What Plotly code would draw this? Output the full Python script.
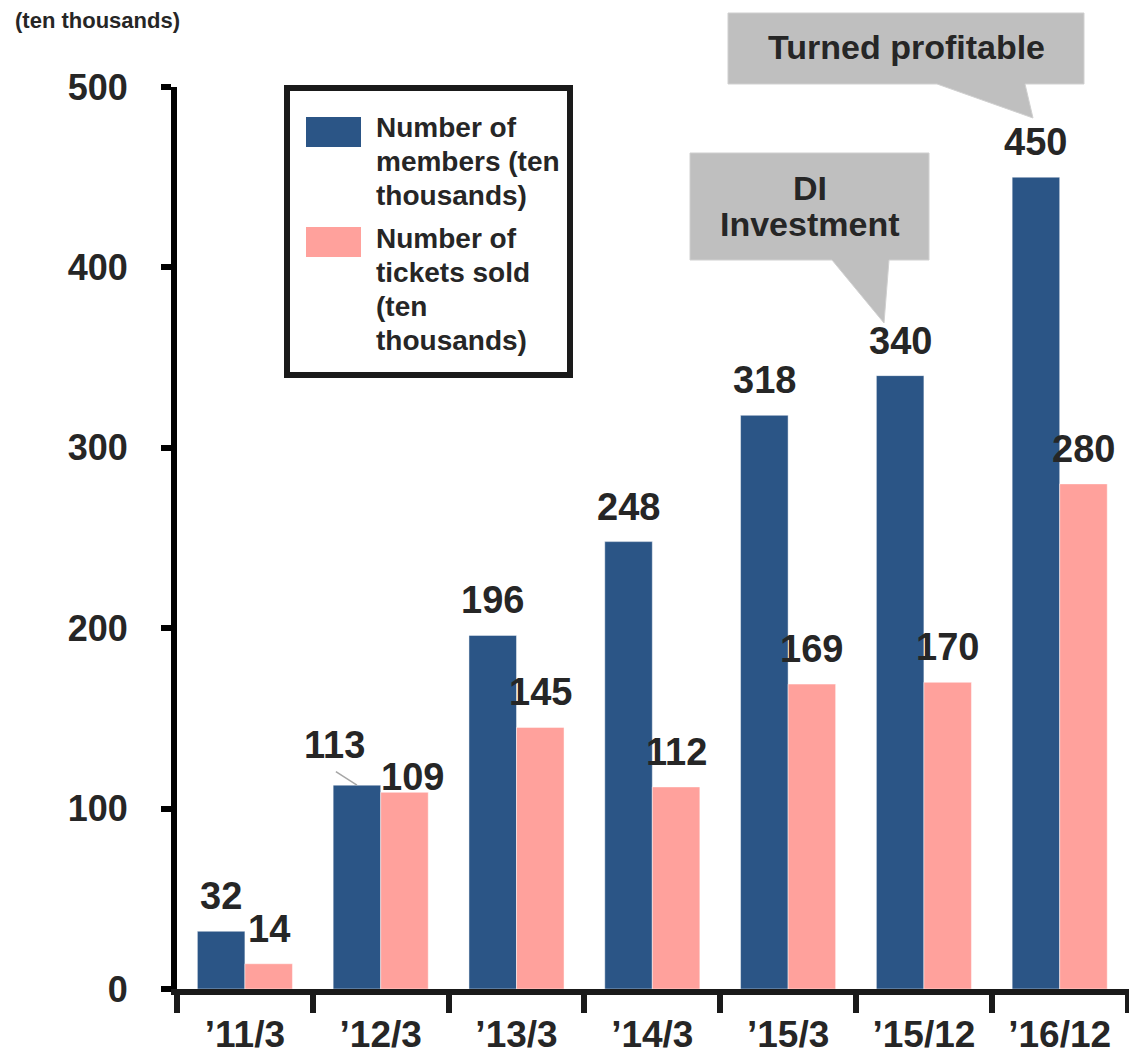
import plotly.graph_objects as go

# ---------------- data ----------------
categories = ["’11/3", "’12/3", "’13/3", "’14/3", "’15/3", "’15/12", "’16/12"]
members = [32, 113, 196, 248, 318, 340, 450]
tickets = [14, 109, 145, 112, 169, 170, 280]
series_names = ["Number of members (ten thousands)", "Number of tickets sold (ten thousands)"]
legend_lines = [["Number of", "members (ten", "thousands)"],
                ["Number of", "tickets sold", "(ten", "thousands)"]]
y_ticks = [0, 100, 200, 300, 400, 500]
unit_label = "(ten thousands)"
callout_profit = ["Turned profitable"]
callout_di = ["DI", "Investment"]

# ---------------- style ----------------
BLUE = "#2B5586"
PINK = "#FFA19C"
GRAY = "#BFBFBF"
TXT = "#262626"
FONT = "Liberation Sans, Arial, sans-serif"

W, H = 1129, 1054
ML, MR, MT, MB = 177, 0, 87, 65
PW, PH = W - ML - MR, H - MT - MB
CAT_PX = 135.8
BARGAP = 0.30


def px(x):
    return (x - ML) / PW


def py(y):
    return (H - MB - y) / PH


fig = go.Figure()
fig.add_bar(x=categories, y=members, name=series_names[0], marker_color=BLUE,
            marker_line=dict(color="rgba(255,255,255,0.45)", width=1), showlegend=False)
fig.add_bar(x=categories, y=tickets, name=series_names[1], marker_color=PINK,
            marker_line=dict(color="rgba(255,255,255,0.45)", width=1), showlegend=False)

annotations = []
shapes = []

# data labels
bar_off = (1 - BARGAP) / 4 * CAT_PX
label_tweak = {(1, 0): (-22, 5), (1, 1): (8, -20)}
for s, vals in enumerate([members, tickets]):
    for i, v in enumerate(vals):
        dx, dy = label_tweak.get((i, s), (0, 0))
        annotations.append(dict(
            x=categories[i], y=v, xref="x", yref="y", text=str(v), showarrow=False,
            xanchor="center", yanchor="middle",
            xshift=(-bar_off if s == 0 else bar_off) + dx, yshift=35 + dy,
            font=dict(size=38, color=TXT, family=FONT, weight="bold")))

# leader line for the 113 label
tip_x = 1 - (1 - BARGAP) / 4
shapes.append(dict(type="line", xref="x", yref="y",
                   x0=tip_x - 0.155, y0=members[1] + 7.5, x1=tip_x, y1=members[1],
                   line=dict(color="#A6A6A6", width=1.5)))

# callouts (decoration)
def poly(pts):
    return "M " + " L ".join(f"{px(a):.5f},{py(b):.5f}" for a, b in pts) + " Z"

shapes.append(dict(type="path", xref="paper", yref="paper",
                   path=poly([(728, 13), (1084, 13), (1084, 84), (1025, 84), (1033, 118),
                              (937, 84), (728, 84)]),
                   fillcolor=GRAY, line=dict(color="#D0D0D0", width=1)))
shapes.append(dict(type="path", xref="paper", yref="paper",
                   path=poly([(690, 153), (929, 153), (929, 260), (889, 260), (884, 323),
                              (832, 260), (690, 260)]),
                   fillcolor=GRAY, line=dict(color="#D0D0D0", width=1)))
annotations.append(dict(x=px(906), y=py(47), xref="paper", yref="paper",
                        text=callout_profit[0], showarrow=False, xanchor="center", yanchor="middle",
                        font=dict(size=34, color=TXT, family=FONT, weight="bold")))
for k, line in enumerate(callout_di):
    annotations.append(dict(x=px(810), y=py(188 + 36 * k), xref="paper", yref="paper",
                            text=line, showarrow=False, xanchor="center", yanchor="middle",
                            font=dict(size=34, color=TXT, family=FONT, weight="bold")))

# manual legend
shapes.append(dict(type="rect", xref="paper", yref="paper",
                   x0=px(287), y0=py(88), x1=px(570), y1=py(375),
                   fillcolor="white", line=dict(color="#1A1A1A", width=6), layer="above"))
swatch_top = [117, 227]
line_start = [128, 239]
for s, color in enumerate([BLUE, PINK]):
    shapes.append(dict(type="rect", xref="paper", yref="paper",
                       x0=px(306), y0=py(swatch_top[s]), x1=px(361), y1=py(swatch_top[s] + 30),
                       fillcolor=color, line=dict(width=0), layer="above"))
    for k, line in enumerate(legend_lines[s]):
        annotations.append(dict(x=px(374), y=py(line_start[s] + 33.8 * k), xref="paper", yref="paper",
                                text=line, showarrow=False, xanchor="left", yanchor="middle",
                                font=dict(size=28, color=TXT, family=FONT, weight="bold")))

# unit label
annotations.append(dict(x=px(13), y=py(21), xref="paper", yref="paper", text=unit_label,
                        showarrow=False, xanchor="left", yanchor="middle",
                        font=dict(size=22, color=TXT, family=FONT, weight="bold")))

fig.update_layout(
    width=W, height=H, margin=dict(l=ML, r=MR, t=MT, b=MB, pad=0),
    paper_bgcolor="white", plot_bgcolor="white",
    barmode="group", bargap=BARGAP, bargroupgap=0,
    annotations=annotations, shapes=shapes,
    xaxis=dict(type="category", range=[-0.5, -0.5 + PW / CAT_PX], showgrid=False, zeroline=False,
               showline=True, linewidth=6, linecolor="#1A1A1A",
               ticks="outside", tickson="boundaries", ticklen=18, tickwidth=6, tickcolor="#1A1A1A",
               ticklabelstandoff=8,
               tickfont=dict(size=37, color=TXT, family=FONT, weight="bold")),
    yaxis=dict(range=[0, 500], tickvals=y_ticks, showgrid=False, zeroline=False,
               showline=True, linewidth=6, linecolor="black",
               ticks="outside", ticklen=10, tickwidth=6, tickcolor="black",
               ticklabelstandoff=26,
               tickfont=dict(size=36, color=TXT, family=FONT, weight="bold")),
)

fig.write_html("out.html")
